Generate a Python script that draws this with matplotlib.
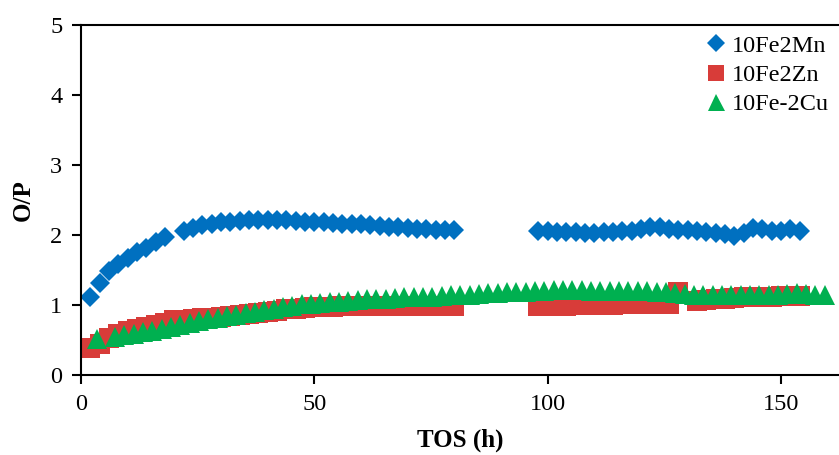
import matplotlib
matplotlib.use("Agg")
import matplotlib.pyplot as plt

plt.rcParams['font.family'] = ['Liberation Serif', 'DejaVu Serif']

# 10Fe2Mn
mn_x = [2, 4, 6, 8, 10, 12, 14, 16, 18,
        22, 24, 26, 28, 30, 32, 34, 36, 38, 40, 42, 44, 46, 48, 50, 52, 54, 56, 58, 60,
        62, 64, 66, 68, 70, 72, 74, 76, 78, 80,
        98, 100, 102, 104, 106, 108, 110, 112, 114, 116, 118, 120, 122, 124, 126, 128,
        130, 132, 134, 136, 138, 140, 142, 144, 146, 148, 150, 152, 154]
mn_y = [1.11, 1.32, 1.48, 1.58, 1.67, 1.75, 1.82, 1.90, 1.97,
        2.05, 2.10, 2.14, 2.16, 2.18, 2.19, 2.20, 2.21, 2.21, 2.22, 2.22, 2.21, 2.20, 2.19, 2.18, 2.18, 2.17, 2.16, 2.16, 2.15,
        2.14, 2.13, 2.12, 2.11, 2.10, 2.09, 2.08, 2.07, 2.07, 2.07,
        2.05, 2.05, 2.04, 2.04, 2.04, 2.03, 2.03, 2.04, 2.04, 2.05, 2.06, 2.08, 2.12, 2.12, 2.09, 2.07,
        2.07, 2.05, 2.04, 2.03, 2.02, 1.99, 2.03, 2.10, 2.09, 2.06, 2.06, 2.08, 2.05]

# 10Fe2Zn
zn_x = [2, 4, 6, 8, 10, 12, 14, 16, 18, 20, 22, 24, 26, 28, 30, 32, 34, 36, 38, 40,
        42, 44, 46, 48, 50, 52, 54, 56, 58, 60, 62, 64, 66, 68, 70, 72, 74, 76, 78, 80,
        98, 100, 102, 104, 106, 108, 110, 112, 114, 116, 118, 120, 122, 124, 126, 128,
        132, 134, 136, 138, 140, 142, 144, 146, 148, 150, 152, 154]
zn_y = [0.39, 0.45, 0.53, 0.58, 0.63, 0.66, 0.69, 0.72, 0.75, 0.78, 0.79, 0.80, 0.81, 0.82, 0.83, 0.84, 0.86, 0.87, 0.88, 0.90,
        0.92, 0.94, 0.95, 0.96, 0.97, 0.97, 0.97, 0.98, 0.98, 0.98, 0.98, 0.98, 0.98, 0.98, 0.99, 0.99, 0.99, 0.99, 0.99, 0.99,
        0.99, 0.99, 0.99, 0.99, 1.00, 1.00, 1.00, 1.00, 1.00, 1.01, 1.01, 1.01, 1.01, 1.01, 1.01, 1.18,
        1.06, 1.07, 1.08, 1.09, 1.10, 1.11, 1.11, 1.12, 1.12, 1.13, 1.13, 1.13]

# 10Fe-2Cu
cu_x = [3.4, 7.3, 9.3, 11.3, 13.3, 15.3, 17.3, 19.3, 21.3, 23.3, 25.3, 27.3, 29.3, 31.3, 33.3, 35.3, 37.3, 39.3,
        41.3, 43.3, 45.3, 47.3, 49.3, 51.3, 53.3, 55.3, 57.3, 59.3, 61.3, 63.3, 65.3, 67.3, 69.3, 71.3, 73.3, 75.3,
        77.3, 79.3, 81.3, 83.3, 85.3, 87.3, 89.3, 91.3, 93.3, 95.3, 97.3, 99.3, 101.3, 103.3, 105.3, 107.3, 109.3,
        111.3, 113.3, 115.3, 117.3, 119.3, 121.3, 123.3, 125.3, 127.3, 129.3, 131.3, 133.3, 135.3, 137.3, 139.3,
        141.3, 143.3, 145.3, 147.3, 149.3, 151.3, 153.3, 155.3, 157.3, 159.3]
cu_y = [0.51, 0.54, 0.57, 0.59, 0.61, 0.63, 0.66, 0.68, 0.71, 0.74, 0.77, 0.80, 0.82, 0.84, 0.86, 0.88, 0.90, 0.93,
        0.95, 0.97, 0.99, 1.01, 1.02, 1.03, 1.04, 1.05, 1.06, 1.07, 1.08, 1.09, 1.09, 1.10, 1.11, 1.11, 1.12, 1.12,
        1.13, 1.14, 1.14, 1.15, 1.16, 1.17, 1.17, 1.18, 1.18, 1.19, 1.20, 1.20, 1.21, 1.21, 1.21, 1.21, 1.20,
        1.20, 1.20, 1.20, 1.20, 1.20, 1.20, 1.19, 1.18, 1.17, 1.16, 1.15, 1.15, 1.14, 1.14, 1.14,
        1.14, 1.15, 1.15, 1.15, 1.15, 1.16, 1.17, 1.16, 1.15, 1.14]

labels = ['10Fe2Mn', '10Fe2Zn', '10Fe-2Cu']
xticks = [0, 50, 100, 150]
yticks = [0, 1, 2, 3, 4, 5]

fig = plt.figure(figsize=(8.39, 4.55), dpi=100)
ax = fig.add_axes([81/839, 80/455, 758/839, 350/455])

ax.plot(mn_x, mn_y, 'D', color='#0070C0', markersize=10.4, markeredgewidth=0, label=labels[0])
ax.plot(zn_x, zn_y, 's', color='#D83C39', markersize=14, markeredgewidth=0, label=labels[1])
ax.plot(cu_x, cu_y, '^', color='#00B050', markersize=14.4, markeredgewidth=0, label=labels[2])

ax.set_xlim(0, 162.4)
ax.set_ylim(0, 5)
ax.set_xticks(xticks)
ax.set_yticks(yticks)
for s in ['left', 'bottom', 'top']:
    ax.spines[s].set_linewidth(1.5)
    ax.spines[s].set_color('black')
ax.spines['right'].set_visible(False)
ax.tick_params(axis='both', direction='out', length=6.5, width=1.5, labelsize=17.5, pad=7)

ax.set_xlabel('TOS (h)', fontsize=18, fontweight='bold', labelpad=10)
ax.set_ylabel('O/P', fontsize=18, fontweight='bold', labelpad=11)

leg = ax.legend(loc='upper right', bbox_to_anchor=(1.0, 1.0), frameon=False, fontsize=17.5,
                handlelength=0.9, handletextpad=0.2, labelspacing=0.3, borderaxespad=0.0,
                markerscale=0.85)

fig.savefig('out.png', dpi=100)
